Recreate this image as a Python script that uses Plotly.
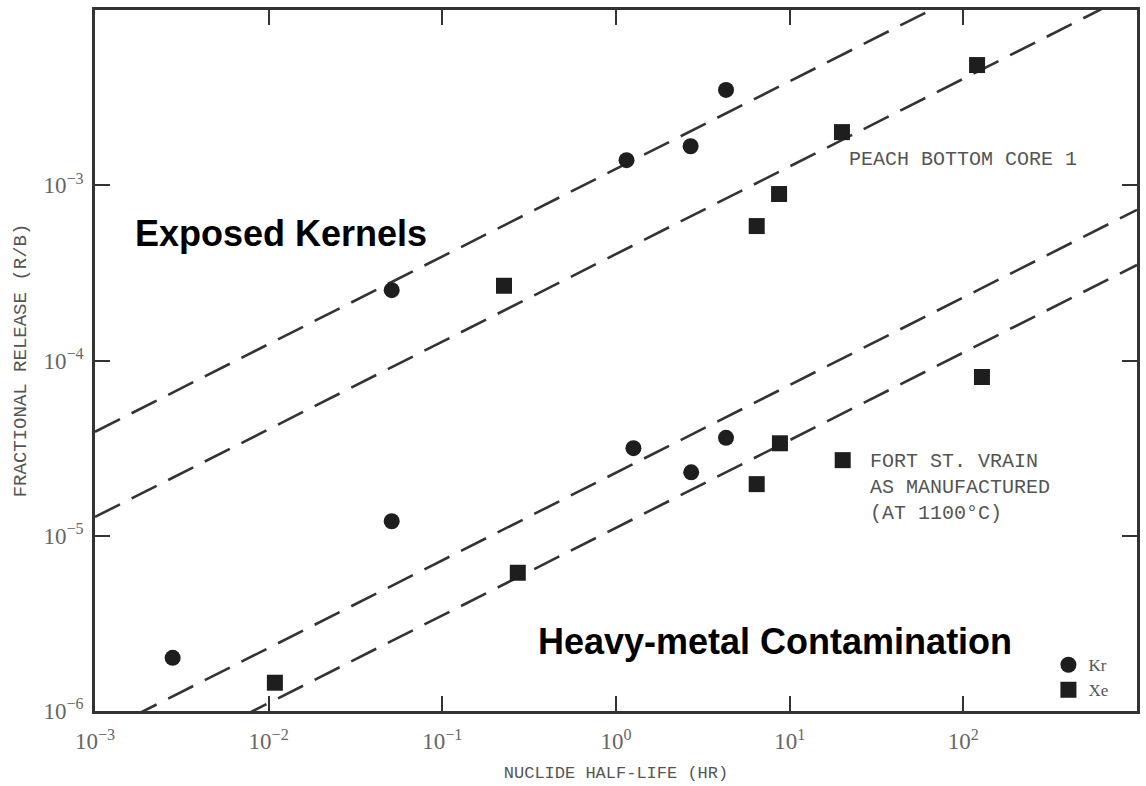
import numpy as np
import plotly.graph_objects as go

# ---- data ----
kr_halflife = [0.0028, 0.0511, 0.0511, 1.15, 2.69, 4.30, 1.26, 2.71, 4.30]
kr_release = [2.01e-6, 2.52e-4, 1.21e-5, 1.39e-3, 1.67e-3, 3.50e-3, 3.16e-5, 2.30e-5, 3.62e-5]

xe_halflife = [0.01086, 0.2265, 0.272, 6.46, 8.69, 20.0, 120.0, 6.46, 8.79, 20.2, 128.0]
xe_release = [1.45e-6, 2.67e-4, 6.15e-6, 5.85e-4, 8.91e-4, 2.01e-3, 4.85e-3, 1.97e-5, 3.37e-5, 2.70e-5, 8.05e-5]

# fitted trend lines: release at 1 hr, log-log slope
fit_at_1hr = [1.24e-3, 4.05e-4, 2.29e-5, 1.11e-5]
fit_slope = [0.5, 0.5, 0.5, 0.5]

x_tick_vals = [1e-3, 1e-2, 1e-1, 1e0, 1e1, 1e2, 1e3]
x_tick_text = ["10<sup>−3</sup>", "10<sup>−2</sup>", "10<sup>−1</sup>", "10<sup>0</sup>",
               "10<sup>1</sup>", "10<sup>2</sup>", "10<sup>3</sup>"]
y_tick_vals = [1e-6, 1e-5, 1e-4, 1e-3, 1e-2]
y_tick_text = ["10<sup>−6</sup>", "10<sup>−5</sup>", "10<sup>−4</sup>", "10<sup>−3</sup>", "10<sup>−2</sup>"]

INK = "#1e1e1e"
GRAY = "#555555"
SERIF = "Liberation Serif, DejaVu Serif, serif"
MONO = "Liberation Mono, DejaVu Sans Mono, monospace"
SANS = "Liberation Sans, Arial, sans-serif"

fig = go.Figure()

xgrid = np.array([1e-3, 1e3])
for a, s in zip(fit_at_1hr, fit_slope):
    fig.add_trace(go.Scatter(
        x=xgrid, y=a * xgrid ** s, mode="lines",
        line=dict(color="#333333", width=2.6, dash="28px,13px"),
        showlegend=False, hoverinfo="skip"))

fig.add_trace(go.Scatter(
    x=kr_halflife, y=kr_release, mode="markers", name="Kr",
    marker=dict(symbol="circle", size=16, color=INK)))
fig.add_trace(go.Scatter(
    x=xe_halflife, y=xe_release, mode="markers", name="Xe",
    marker=dict(symbol="square", size=16, color=INK)))

axis_common = dict(
    showgrid=False, zeroline=False, showline=True, linecolor="#333333", linewidth=2.5,
    mirror="ticks", ticks="inside", ticklen=15, tickwidth=2, tickcolor="#333333",
    tickfont=dict(family=SERIF, size=23, color="#666666"), automargin=False,
)

fig.update_xaxes(type="log", range=[-3, 3], tickvals=x_tick_vals, ticktext=x_tick_text,
                 ticklabelstandoff=8,
                 title=dict(text="NUCLIDE HALF-LIFE (HR)", font=dict(family=MONO, size=17, color=GRAY),
                            standoff=13),
                 **axis_common)
fig.update_yaxes(type="log", range=[-6, -2], tickvals=y_tick_vals, ticktext=y_tick_text,
                 ticklabelstandoff=4,
                 title=dict(text="FRACTIONAL RELEASE (R/B)", font=dict(family=MONO, size=19, color=GRAY),
                            standoff=12),
                 **axis_common)

fig.add_annotation(xref="paper", yref="paper", x=0.1785, y=0.681, xanchor="center", yanchor="middle",
                   showarrow=False, text="<b>Exposed Kernels</b>",
                   font=dict(family=SANS, size=36, color="black"))
fig.add_annotation(xref="paper", yref="paper", x=0.6525, y=0.0995, xanchor="center", yanchor="middle",
                   showarrow=False, text="<b>Heavy-metal Contamination</b>",
                   font=dict(family=SANS, size=36, color="black"))

fig.add_annotation(xref="paper", yref="paper", x=0.7215, y=0.7865, xanchor="left", yanchor="middle",
                   showarrow=False, text="PEACH BOTTOM CORE 1",
                   font=dict(family=MONO, size=20, color=GRAY))
fig.add_annotation(xref="paper", yref="paper", x=0.742, y=0.3195, xanchor="left", yanchor="middle",
                   align="left", showarrow=False,
                   text="FORT ST. VRAIN<br>AS MANUFACTURED<br>(AT 1100°C)",
                   font=dict(family=MONO, size=20, color=GRAY))

fig.update_layout(
    width=1146, height=786,
    margin=dict(l=95, r=9, t=10, b=75),
    paper_bgcolor="white", plot_bgcolor="white",
    showlegend=True,
    legend=dict(x=0.915, y=0.004, xanchor="left", yanchor="bottom",
                bgcolor="rgba(0,0,0,0)", font=dict(family=SERIF, size=17, color=GRAY),
                itemsizing="trace", tracegroupgap=0),
)

fig.write_html("out.html")
